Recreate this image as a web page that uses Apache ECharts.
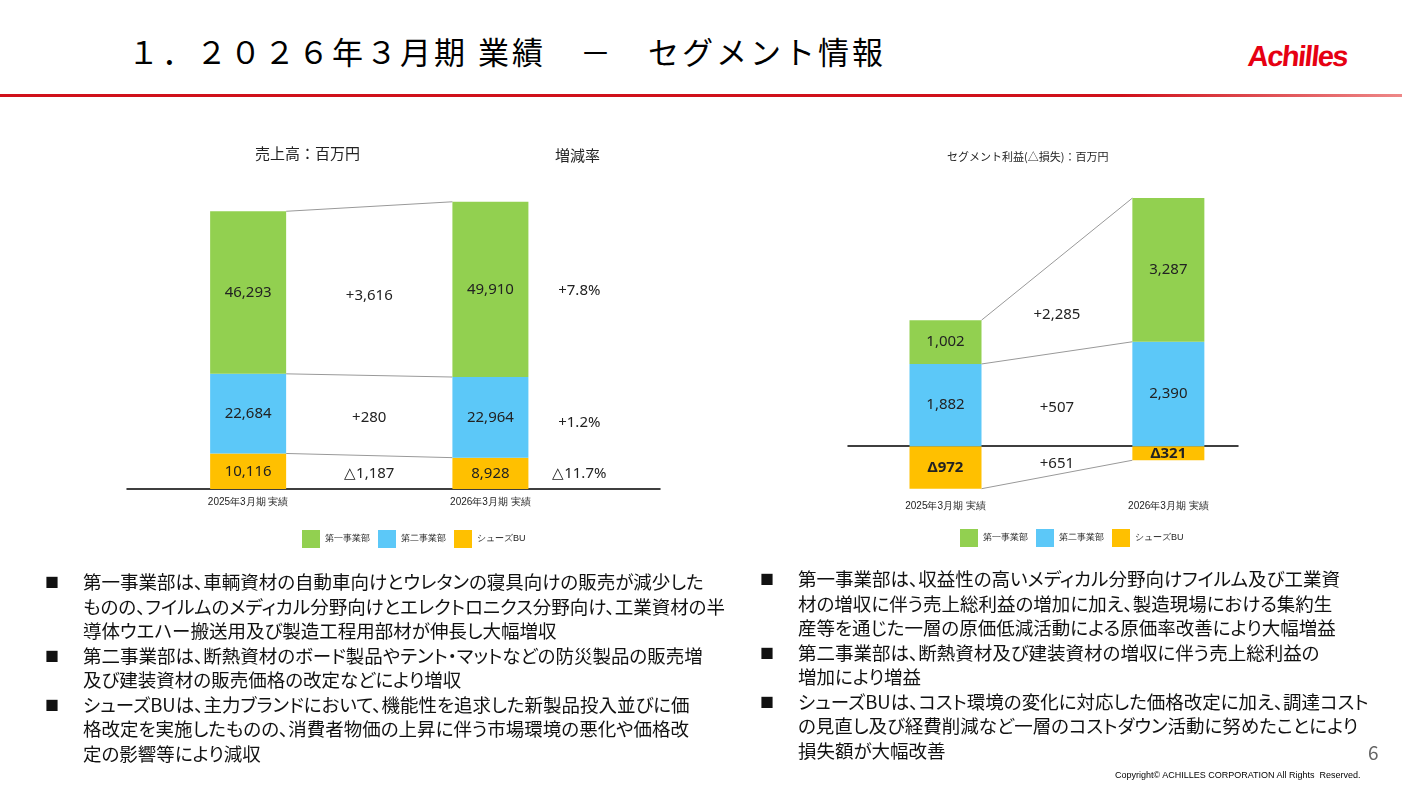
<!DOCTYPE html>
<html><head><meta charset="utf-8">
<script src="https://cdn.jsdelivr.net/npm/echarts@6/dist/echarts.min.js"></script>
<style>
body{margin:0;width:1402px;height:787px;overflow:hidden;background:#fff;font-family:"Noto Sans CJK JP","Noto Sans",sans-serif;position:relative}
#c{position:absolute;left:0;top:0;width:1402px;height:787px}
.t{position:absolute;white-space:nowrap;color:#000}
.b{position:absolute;font-size:18.5px;line-height:24.5px;color:#111;white-space:nowrap;font-feature-settings:"palt"}
.b div{position:relative;padding-left:38px}
.b div:before{content:"■";position:absolute;left:0;font-size:14px}
</style></head><body>
<div class="t" style="left:128px;top:28px;font-size:31px;letter-spacing:3px">１．２０２６年３月期 業績　－　セグメント情報</div>
<div class="t" style="left:1248px;top:40px;font-size:29px;font-weight:bold;color:#e60012;font-family:'Liberation Sans';letter-spacing:-1.5px;transform:skewX(-6deg)">Achilles</div>
<div style="position:absolute;left:0;top:94px;width:1402px;height:3px;background:linear-gradient(to right,#d0101a,#d0101a 80%,#e88)"></div>
<div id="c"></div>
<div class="b" style="left:45px;top:569px">
<div>第一事業部は、車輌資材の自動車向けとウレタンの寝具向けの販売が減少した<br>ものの、フイルムのメディカル分野向けとエレクトロニクス分野向け、工業資材の半<br>導体ウエハー搬送用及び製造工程用部材が伸長し大幅増収</div>
<div>第二事業部は、断熱資材のボード製品やテント・マットなどの防災製品の販売増<br>及び建装資材の販売価格の改定などにより増収</div>
<div>シューズBUは、主力ブランドにおいて、機能性を追求した新製品投入並びに価<br>格改定を実施したものの、消費者物価の上昇に伴う市場環境の悪化や価格改<br>定の影響等により減収</div>
</div>
<div class="b" style="left:760px;top:566px">
<div>第一事業部は、収益性の高いメディカル分野向けフイルム及び工業資<br>材の増収に伴う売上総利益の増加に加え、製造現場における集約生<br>産等を通じた一層の原価低減活動による原価率改善により大幅増益</div>
<div>第二事業部は、断熱資材及び建装資材の増収に伴う売上総利益の<br>増加により増益</div>
<div>シューズBUは、コスト環境の変化に対応した価格改定に加え、調達コスト<br>の見直し及び経費削減など一層のコストダウン活動に努めたことにより<br>損失額が大幅改善</div>
</div>
<div class="t" style="left:1368px;top:738px;font-size:19px;color:#666">6</div>
<div class="t" style="left:1115px;top:770px;font-size:9px;font-family:'Liberation Sans'">Copyright© ACHILLES CORPORATION All Rights &nbsp;Reserved.</div>
<script>
const categories=['2025年3月期 実績','2026年3月期 実績'];
const seriesNames=['第一事業部','第二事業部','シューズBU'];
const colors=['#92D050','#5CC8F8','#FFC000'];
const salesDept1=[46293,49910];
const salesDept2=[22684,22964];
const salesShoes=[10116,8928];
const salesDiff=['+3,616','+280','△1,187'];
const salesRate=['+7.8%','+1.2%','△11.7%'];
const profDept1=[1002,3287];
const profDept2=[1882,2390];
const profShoes=[-972,-321];
const profDiff=['+2,285','+507','+651'];

const L={n:23,pos:[5,15],mid:10,rate:19};
const R={n:29,pos:[7,23],mid:15};
const slots=(ax)=>Array.from({length:ax.n},(_,i)=>{const k=ax.pos.indexOf(i);return k<0?'':categories[k];});
const spread=(ax,arr)=>Array.from({length:ax.n},(_,i)=>{const k=ax.pos.indexOf(i);return k<0?null:arr[k];});

const fmt=v=>(v<0?'△':'')+Math.abs(v).toLocaleString('en-US');
const chart=echarts.init(document.getElementById('c'));
function bars(gi,ax,d1,d2,sh,neg){
  const bw=gi?72:76;
  const lbl={show:true,position:'inside',color:'#222',fontSize:15,fontFamily:'Noto Sans',formatter:p=>fmt(p.value)};
  const s=(k,arr,extra)=>({name:seriesNames[k],type:'bar',xAxisIndex:gi,yAxisIndex:gi,stack:'st'+gi,barWidth:bw,data:spread(ax,arr),itemStyle:{color:colors[k]},label:Object.assign({},lbl,extra||{})});
  return [s(2,sh,neg?{formatter:p=>'Δ'+Math.abs(p.value),fontWeight:'bold'}:null),s(1,d2),s(0,d1)];
}
function connectors(gi,ax,levels,bw){
  return {type:'custom',xAxisIndex:gi,yAxisIndex:gi,silent:true,z:1,data:levels.map(l=>[l[0],l[1]]),
    renderItem:(p,api)=>{const a=api.coord([ax.pos[0],api.value(0)]),b=api.coord([ax.pos[1],api.value(1)]);
      return {type:'line',shape:{x1:a[0]+bw/2,y1:a[1],x2:b[0]-bw/2,y2:b[1]},style:{stroke:'#999',lineWidth:1}};}};
}
function texts(gi,pts){
  return {type:'custom',xAxisIndex:gi,yAxisIndex:gi,silent:true,data:pts.map(p=>[p[0],p[1],p[3]||0]),
    renderItem:(p,api)=>{const c=api.coord([api.value(0),api.value(1)]);const t=pts[p.dataIndex];
      return {type:'text',x:c[0]+(t[3]||0),y:c[1],style:{text:t[2],fill:'#222',fontSize:15,fontFamily:'Noto Sans',align:'center',verticalAlign:'middle'}};}};
}
const sTop1=salesShoes.map((v,i)=>v+salesDept2[i]),sTop2=sTop1.map((v,i)=>v+salesDept1[i]);
const pTop1=profDept2,pTop2=profDept2.map((v,i)=>v+profDept1[i]);
const xa=(gi,ax)=>({gridIndex:gi,type:'category',boundaryGap:false,data:slots(ax),splitLine:{show:false},axisTick:{show:false},
  axisLine:{lineStyle:{color:'#000',width:1.5}},axisLabel:{interval:0,fontSize:10,color:'#222',margin:8}});
chart.setOption({
  animation:false,
  grid:[{left:127,right:1402-660,top:173,bottom:298},{left:848,right:1402-1238,top:184,bottom:294}],
  xAxis:[xa(0,L),xa(1,R)],
  yAxis:[{gridIndex:0,type:'value',min:0,max:90000,show:false},{gridIndex:1,type:'value',min:-1070,max:6000,show:false}],
  legend:[
    {data:seriesNames,left:297,top:525,itemWidth:18,itemHeight:18,itemGap:8,icon:'rect',textStyle:{fontSize:9,color:'#222'}},
    {data:seriesNames,left:955,top:524,itemWidth:18,itemHeight:18,itemGap:8,icon:'rect',textStyle:{fontSize:9,color:'#222'}}],
  graphic:[
    {type:'text',left:255,top:146,style:{text:'売上高：百万円',fontSize:15,fill:'#222',fontFamily:'Noto Sans CJK JP'}},
    {type:'text',left:555,top:148,style:{text:'増減率',fontSize:15,fill:'#222',fontFamily:'Noto Sans CJK JP'}},
    {type:'text',left:947,top:151,style:{text:'セグメント利益(△損失)：百万円',fontSize:11,fill:'#222',fontFamily:'Noto Sans CJK JP'}}],
  series:[
    ...bars(0,L,salesDept1,salesDept2,salesShoes,false),
    ...bars(1,R,profDept1,profDept2,profShoes,true),
    connectors(0,L,[[salesShoes[0],salesShoes[1]],[sTop1[0],sTop1[1]],[sTop2[0],sTop2[1]]],76),
    connectors(1,R,[[profShoes[0],profShoes[1]],[pTop1[0],pTop1[1]],[pTop2[0],pTop2[1]]],72),
    texts(0,[[L.mid,55000,salesDiff[0]],[L.mid,20200,salesDiff[1]],[L.mid,4300,salesDiff[2]],[L.rate,56500,salesRate[0],-8],[L.rate,19000,salesRate[1],-8],[L.rate,4300,salesRate[2],-8]]),
    texts(1,[[R.mid,3000,profDiff[0]],[R.mid,880,profDiff[1]],[R.mid,-390,profDiff[2]]])
  ]
});
</script></body></html>
